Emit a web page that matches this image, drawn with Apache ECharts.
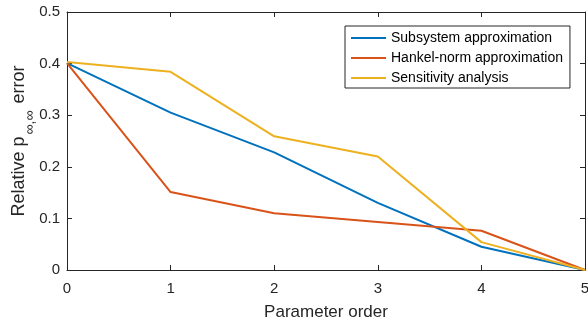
<!DOCTYPE html>
<html><head><meta charset="utf-8">
<script src="https://cdn.jsdelivr.net/npm/echarts@6/dist/echarts.min.js"></script>
<style>html,body{margin:0;padding:0;background:#fff}#c{width:588px;height:325px}</style>
</head><body><div id="c"></div>
<script>
const categories = [0, 1, 2, 3, 4, 5];
const subsystem = [0.401, 0.305, 0.228, 0.130, 0.045, 0.0];
const hankel = [0.401, 0.151, 0.110, 0.093, 0.076, 0.0];
const sensitivity = [0.403, 0.384, 0.259, 0.220, 0.054, 0.0];
const xTicks = [0, 1, 2, 3, 4, 5];
const yTicks = [0, 0.1, 0.2, 0.3, 0.4, 0.5];

const chart = echarts.init(document.getElementById('c'), null, {renderer: 'canvas'});
const axisColor = '#262626';
const font = 'Liberation Sans, Arial, sans-serif';
const pairs = arr => categories.map((x, i) => [x, arr[i]]);
const baseX = {
  type: 'value', min: 0, max: 5, interval: 1,
  axisLine: {show: true, onZero: false, lineStyle: {color: axisColor, width: 1}},
  axisTick: {show: true, inside: true, length: 5, lineStyle: {color: axisColor}},
  splitLine: {show: false}
};
const baseY = {
  type: 'value', min: 0, max: 0.5, interval: 0.1,
  axisLine: {show: true, onZero: false, lineStyle: {color: axisColor, width: 1}},
  axisTick: {show: true, inside: true, length: 5, lineStyle: {color: axisColor}},
  splitLine: {show: false}
};
chart.setOption({
  animation: false,
  textStyle: {fontFamily: font},
  grid: {left: 67, right: 3, top: 12, bottom: 55, containLabel: false, outerBoundsMode: 'none'},
  legend: {
    orient: 'vertical', left: 345, top: 26,
    backgroundColor: '#fff', borderColor: axisColor, borderWidth: 1,
    padding: [5, 7, 3, 6], itemGap: 6, itemWidth: 35, itemHeight: 2,
    icon: 'rect',
    textStyle: {fontSize: 14, color: '#000', fontFamily: font},
    data: ['Subsystem approximation', 'Hankel-norm approximation', 'Sensitivity analysis']
  },
  xAxis: [
    Object.assign({}, baseX, {
      position: 'bottom',
      name: 'Parameter order', nameLocation: 'middle', nameGap: 34, nameMoveOverlap: false,
      nameTextStyle: {fontSize: 17, color: axisColor, fontFamily: font},
      axisLabel: {fontSize: 15, color: axisColor, margin: 11, fontFamily: font,
        formatter: v => xTicks.includes(v) ? String(v) : ''}
    }),
    Object.assign({}, baseX, {position: 'top', axisLabel: {show: false}})
  ],
  yAxis: [
    Object.assign({}, baseY, {
      position: 'left',
      name: '{n|Relative p}{s|∞,∞}{n| error}', nameLocation: 'middle', nameGap: 39, nameMoveOverlap: false,
      nameTextStyle: {
        fontSize: 18, color: axisColor, fontFamily: font,
        rich: {
          n: {fontSize: 18, color: axisColor, fontFamily: font, verticalAlign: 'top', lineHeight: 18},
          s: {fontSize: 14, color: axisColor, fontFamily: font, verticalAlign: 'top', padding: [13, 2, 0, 2], lineHeight: 18}
        }
      },
      axisLabel: {fontSize: 15, color: axisColor, margin: 7, fontFamily: font,
        formatter: v => String(Math.round(v * 10) / 10)}
    }),
    Object.assign({}, baseY, {position: 'right', axisLabel: {show: false}})
  ],
  series: [
    {name: 'Subsystem approximation', type: 'line', data: pairs(subsystem), symbol: 'none',
     lineStyle: {color: '#0072BD', width: 2}, itemStyle: {color: '#0072BD'}},
    {name: 'Hankel-norm approximation', type: 'line', data: pairs(hankel), symbol: 'none',
     lineStyle: {color: '#D95319', width: 2}, itemStyle: {color: '#D95319'}},
    {name: 'Sensitivity analysis', type: 'line', data: pairs(sensitivity), symbol: 'none',
     lineStyle: {color: '#EDB120', width: 2}, itemStyle: {color: '#EDB120'}}
  ]
});
</script></body></html>
